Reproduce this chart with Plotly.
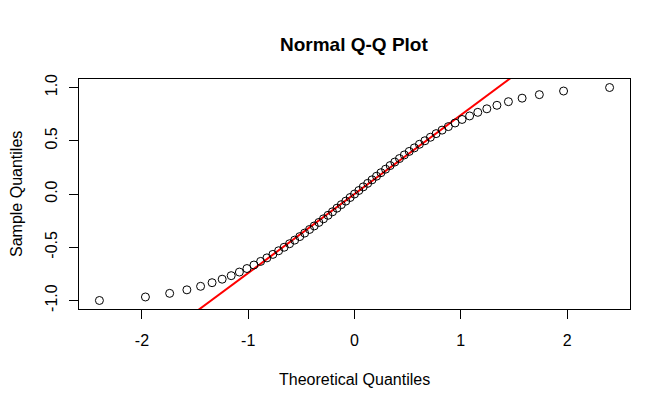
import plotly.graph_objects as go
import numpy as np

# Theoretical normal quantiles (x) read/estimated for 61 points
theoretical_neg = [-2.400, -1.967, -1.739, -1.577, -1.448, -1.340, -1.245, -1.160,
                   -1.083, -1.012, -0.946, -0.883, -0.824, -0.768, -0.714, -0.662,
                   -0.611, -0.563, -0.515, -0.469, -0.423, -0.379, -0.335, -0.292,
                   -0.249, -0.207, -0.165, -0.124, -0.082, -0.041]
theoretical_q = theoretical_neg + [0.0] + [-v for v in reversed(theoretical_neg)]

# Sample quantiles (y), evenly spaced from -1 to 1
sample_q = [-1.000, -0.967, -0.933, -0.900, -0.867, -0.833, -0.800, -0.767, -0.733, -0.700,
            -0.667, -0.633, -0.600, -0.567, -0.533, -0.500, -0.467, -0.433, -0.400, -0.367,
            -0.333, -0.300, -0.267, -0.233, -0.200, -0.167, -0.133, -0.100, -0.067, -0.033,
            0.000, 0.033, 0.067, 0.100, 0.133, 0.167, 0.200, 0.233, 0.267, 0.300,
            0.333, 0.367, 0.400, 0.433, 0.467, 0.500, 0.533, 0.567, 0.600, 0.633,
            0.667, 0.700, 0.733, 0.767, 0.800, 0.833, 0.867, 0.900, 0.933, 0.967, 1.000]

x_ticks = [-2, -1, 0, 1, 2]
x_tick_labels = ["-2", "-1", "0", "1", "2"]
y_ticks = [-1.0, -0.5, 0.0, 0.5, 1.0]
y_tick_labels = ["-1.0", "-0.5", "0.0", "0.5", "1.0"]

# qqline: through first and third quartiles
yq = np.quantile(sample_q, [0.25, 0.75])
xq = np.array([-0.6745, 0.6745])
slope = (yq[1] - yq[0]) / (xq[1] - xq[0])
intercept = yq[0] - slope * xq[0]

xr = [-2.592, 2.592]
yr = [-1.08, 1.08]
line_x = [-3.0, 3.0]
line_y = [intercept + slope * v for v in line_x]

FONT = "Liberation Sans, Arial, Helvetica, sans-serif"

fig = go.Figure()
fig.add_trace(go.Scatter(
    x=line_x, y=line_y, mode="lines",
    line=dict(color="#ff0000", width=2), hoverinfo="skip", showlegend=False))
fig.add_trace(go.Scatter(
    x=theoretical_q, y=sample_q, mode="markers",
    marker=dict(symbol="circle-open", size=8, color="black", line=dict(width=1, color="black")),
    showlegend=False))

L, R, T, B = 79, 40, 79, 99
W, H = 670, 408
pw, ph = W - L - R, H - T - B

def px_x(px):
    return (px - L) / pw

def px_y(py):
    return (H - B - py) / ph

fig.update_layout(
    width=W, height=H,
    margin=dict(l=L, r=R, t=T, b=B, pad=0),
    paper_bgcolor="white", plot_bgcolor="white",
    font=dict(family=FONT, size=16, color="black"),
    showlegend=False,
    xaxis=dict(range=xr, tickvals=x_ticks, ticktext=x_tick_labels,
               showgrid=False, zeroline=False, showline=True, mirror=True,
               linecolor="black", linewidth=1, ticks="outside", ticklen=9,
               tickcolor="black", tickwidth=1, ticklabelstandoff=8,
               tickfont=dict(size=16)),
    yaxis=dict(range=yr, tickvals=y_ticks, ticktext=y_tick_labels,
               showgrid=False, zeroline=False, showline=True, mirror=True,
               linecolor="black", linewidth=1, ticks="outside", ticklen=9,
               tickcolor="black", tickwidth=1, tickangle=-90, ticklabelstandoff=6,
               tickfont=dict(size=16)),
    annotations=[
        dict(text="<b>Normal Q-Q Plot</b>", xref="paper", yref="paper",
             x=px_x(354), y=px_y(44), showarrow=False,
             xanchor="center", yanchor="middle", font=dict(size=19)),
        dict(text="Theoretical Quantiles", xref="paper", yref="paper",
             x=px_x(354), y=px_y(379), showarrow=False,
             xanchor="center", yanchor="middle", font=dict(size=16)),
        dict(text="Sample Quantiles", xref="paper", yref="paper",
             x=px_x(16), y=px_y(194), showarrow=False, textangle=-90,
             xanchor="center", yanchor="middle", font=dict(size=16)),
    ],
)

fig.write_html("out.html")
